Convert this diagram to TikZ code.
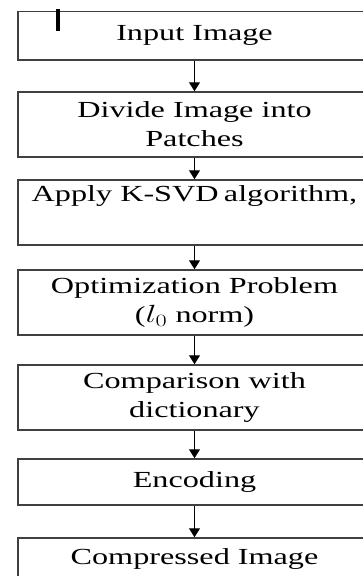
\documentclass[tikz,border=0pt]{standalone}
\usepackage{fontspec}
\usepackage{graphicx}
\setmainfont{Liberation Serif}
\usetikzlibrary{arrows.meta}
\newcommand{\sx}[1]{\scalebox{1.4}[1]{#1}}
\tikzset{
  stepbox/.style={draw=black!75, line width=1.5pt, minimum width=353.5pt, inner sep=0pt,
    align=center, font=\fontsize{23}{29}\selectfont, text=black},
  flow/.style={-{Triangle[width=11pt,length=9pt]}, line width=1.3pt, black},
}
\begin{document}
\begin{tikzpicture}[x=1pt,y=-1pt]
\useasboundingbox (0,0) rectangle (363,576);
\clip (0,0) rectangle (363,576);
\fill[white] (0,0) rectangle (363,576);
\node[stepbox, minimum height=48.5pt] (b1) at (194.5,35.75) {\sx{Input Image}};
\node[stepbox, minimum height=65pt] (b2) at (194.5,124.5) {\sx{Divide Image into}\\\sx{Patches}};
\node[stepbox, minimum height=65pt] (b3) at (194.5,212.5) {\sx{Apply K-SVD\,algorithm,}\\\strut};
\node[stepbox, minimum height=65pt] (b4) at (194.5,302.5) {\sx{Optimization Problem}\\\sx{($l_0$ norm)}};
\node[stepbox, minimum height=65pt] (b5) at (194.5,397.5) {\sx{Comparison with}\\\sx{dictionary}};
\node[stepbox, minimum height=46pt] (b6) at (194.5,482) {\sx{Encoding}};
\node[stepbox, minimum height=42pt] (b7) at (194.5,559) {\sx{Compressed Image}};
\draw[flow] (b1.south) -- (b2.north);
\draw[flow] (b2.south) -- (b3.north);
\draw[flow] (b3.south) -- (b4.north);
\draw[flow] (b4.south) -- (b5.north);
\draw[flow] (b5.south) -- (b6.north);
\draw[flow] (b6.south) -- (b7.north);
\fill[black] (56.3,9.3) rectangle (60.3,30.7);
\end{tikzpicture}
\end{document}
